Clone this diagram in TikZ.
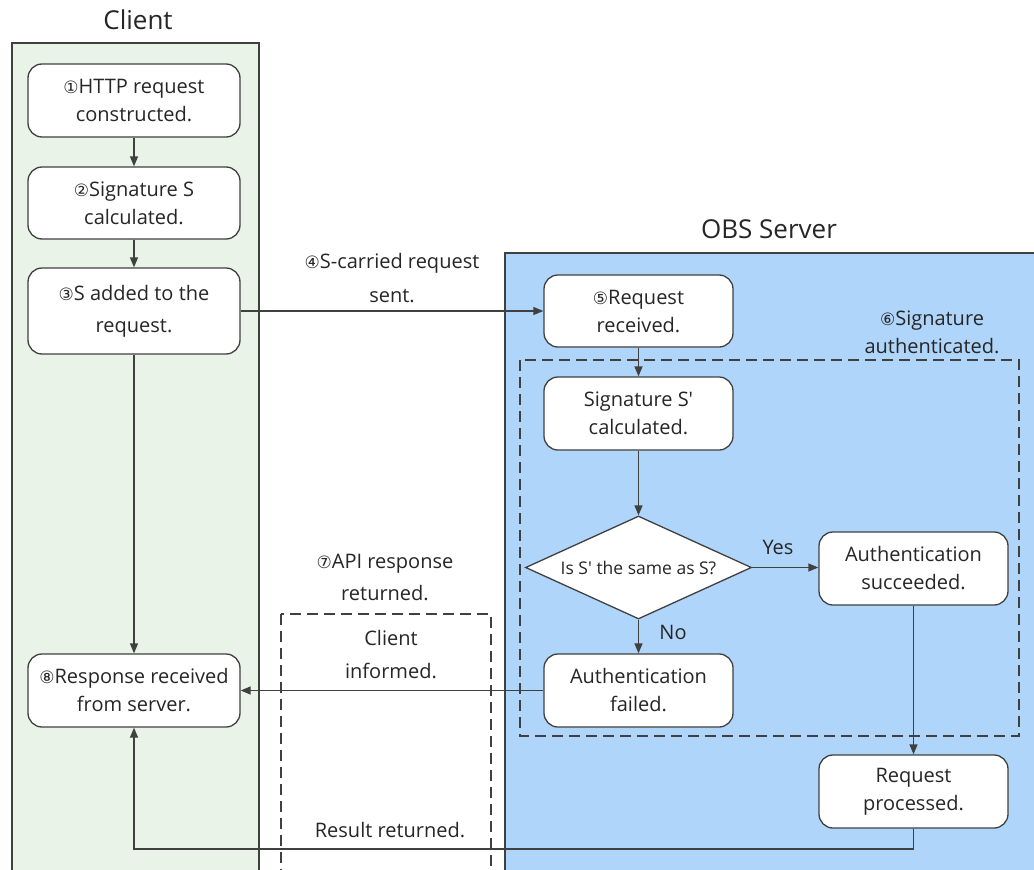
\documentclass[tikz,border=0pt]{standalone}
\usepackage{fontspec}
\setmainfont{Open Sans}
\newfontfamily\circfont{DejaVu Sans}
\newfontfamily\qfont{Open Sans}
\usetikzlibrary{shapes.geometric,arrows.meta}
\definecolor{lanegreen}{RGB}{233,243,232}
\definecolor{laneblue}{RGB}{175,213,250}
\definecolor{linec}{RGB}{64,64,64}
\definecolor{textc}{RGB}{38,38,38}
\newcommand{\cn}[1]{{\circfont\fontsize{17}{17}\selectfont #1}}
\newcommand{\ap}{{\qfont'}}
\begin{document}
\begin{tikzpicture}[x=1pt,y=-1pt,
  font=\fontsize{20}{28}\selectfont, text=textc,
  box/.style={draw=linec, line width=1.3pt, fill=white, rounded corners=14pt,
    minimum width=#1, minimum height=73pt, align=center, inner sep=0pt},
  box/.default=212pt,
  arr/.style={draw=linec, line width=1.3pt, -{Triangle[length=10pt,width=8pt]}},
  lane/.style={draw=linec, line width=1.3pt},
  dashbox/.style={draw=linec, line width=1.3pt, dash pattern=on 11pt off 6pt},
  title/.style={font=\fontsize{26}{30}\selectfont},
  lbl/.style={align=center, inner sep=0pt}]
\useasboundingbox (0,0) rectangle (1034,870);
\clip (0,0) rectangle (1034,870);
% lanes
\fill[white] (0,0) rectangle (1034,870);
\draw[lane, fill=lanegreen] (12,43) rectangle (259,890);
\draw[lane, fill=laneblue] (505,253) rectangle (1050,890);
\node[title] (tclient) at (138,20) {Client};
\node[title] (tserver) at (769,229) {OBS Server};
% dashed groups
\draw[dashbox] (520,360) rectangle (1019,736);
\draw[dashbox] (281,614) rectangle (491,890);
% client boxes
\node[box] (b1) at (134,100.5) {\cn{①}HTTP request\\constructed.};
\node[box, minimum height=72pt] (b2) at (134,203) {\cn{②}Signature S\\calculated.};
\node[box, minimum height=86pt, font=\fontsize{20}{32}\selectfont] (b3) at (134,311) {\cn{③}S added to the\\request.};
\node[box] (b8) at (134,690.5) {\cn{⑧}Response received\\from server.};
% server boxes
\node[box=189pt, minimum height=72pt] (b5) at (638.5,311) {\cn{⑤}Request\\received.};
\node[box=189pt] (bs) at (638.5,413.5) {Signature S\ap\\calculated.};
\node[draw=linec, line width=1.3pt, fill=white, diamond, shape aspect=2.2,
  minimum width=226pt, minimum height=103pt, inner sep=0pt,
  font=\fontsize{17.5}{20}\selectfont] (dia) at (638.5,567.5) {Is S\ap{} the same as S?};
\node[box=189pt] (bok) at (913.5,568.5) {Authentication\\succeeded.};
\node[box=189pt] (bfail) at (638.5,690.5) {Authentication\\failed.};
\node[box=189pt] (bproc) at (913.5,791.5) {Request\\processed.};
% labels
\node[lbl, font=\fontsize{20}{34}\selectfont] (l4) at (392,278) {\cn{④}S-carried request\\sent.};
\node[lbl] (l6) at (932,332) {\cn{⑥}Signature\\authenticated.};
\node[lbl, font=\fontsize{20}{32}\selectfont] (l7) at (385,577) {\cn{⑦}API response\\returned.};
\node[lbl, font=\fontsize{20}{33}\selectfont] (lci) at (391,655) {Client\\informed.};
\node[lbl] (lrr) at (390,830) {Result returned.};
\node[lbl] (lyes) at (778,547) {Yes};
\node[lbl] (lno) at (673,632) {No};
% connectors
\draw[arr] (b1) -- (b2);
\draw[arr] (b2) -- (b3);
\draw[arr] (b3) -- (b8);
\draw[arr] (b3.east) -- (b5.west);
\draw[arr] (b5) -- (bs);
\draw[arr] (bs) -- (dia);
\draw[arr] (dia) -- (bfail);
\draw[arr] (dia.east) -- (bok.west |- dia.east);
\draw[arr] (bok) -- (bproc);
\draw[arr] (bfail.west) -- (b8.east);
\coordinate (rr) at (913.5,849);
\draw[arr] (bproc.south) -- (rr) -| (b8.south);
\end{tikzpicture}
\end{document}
